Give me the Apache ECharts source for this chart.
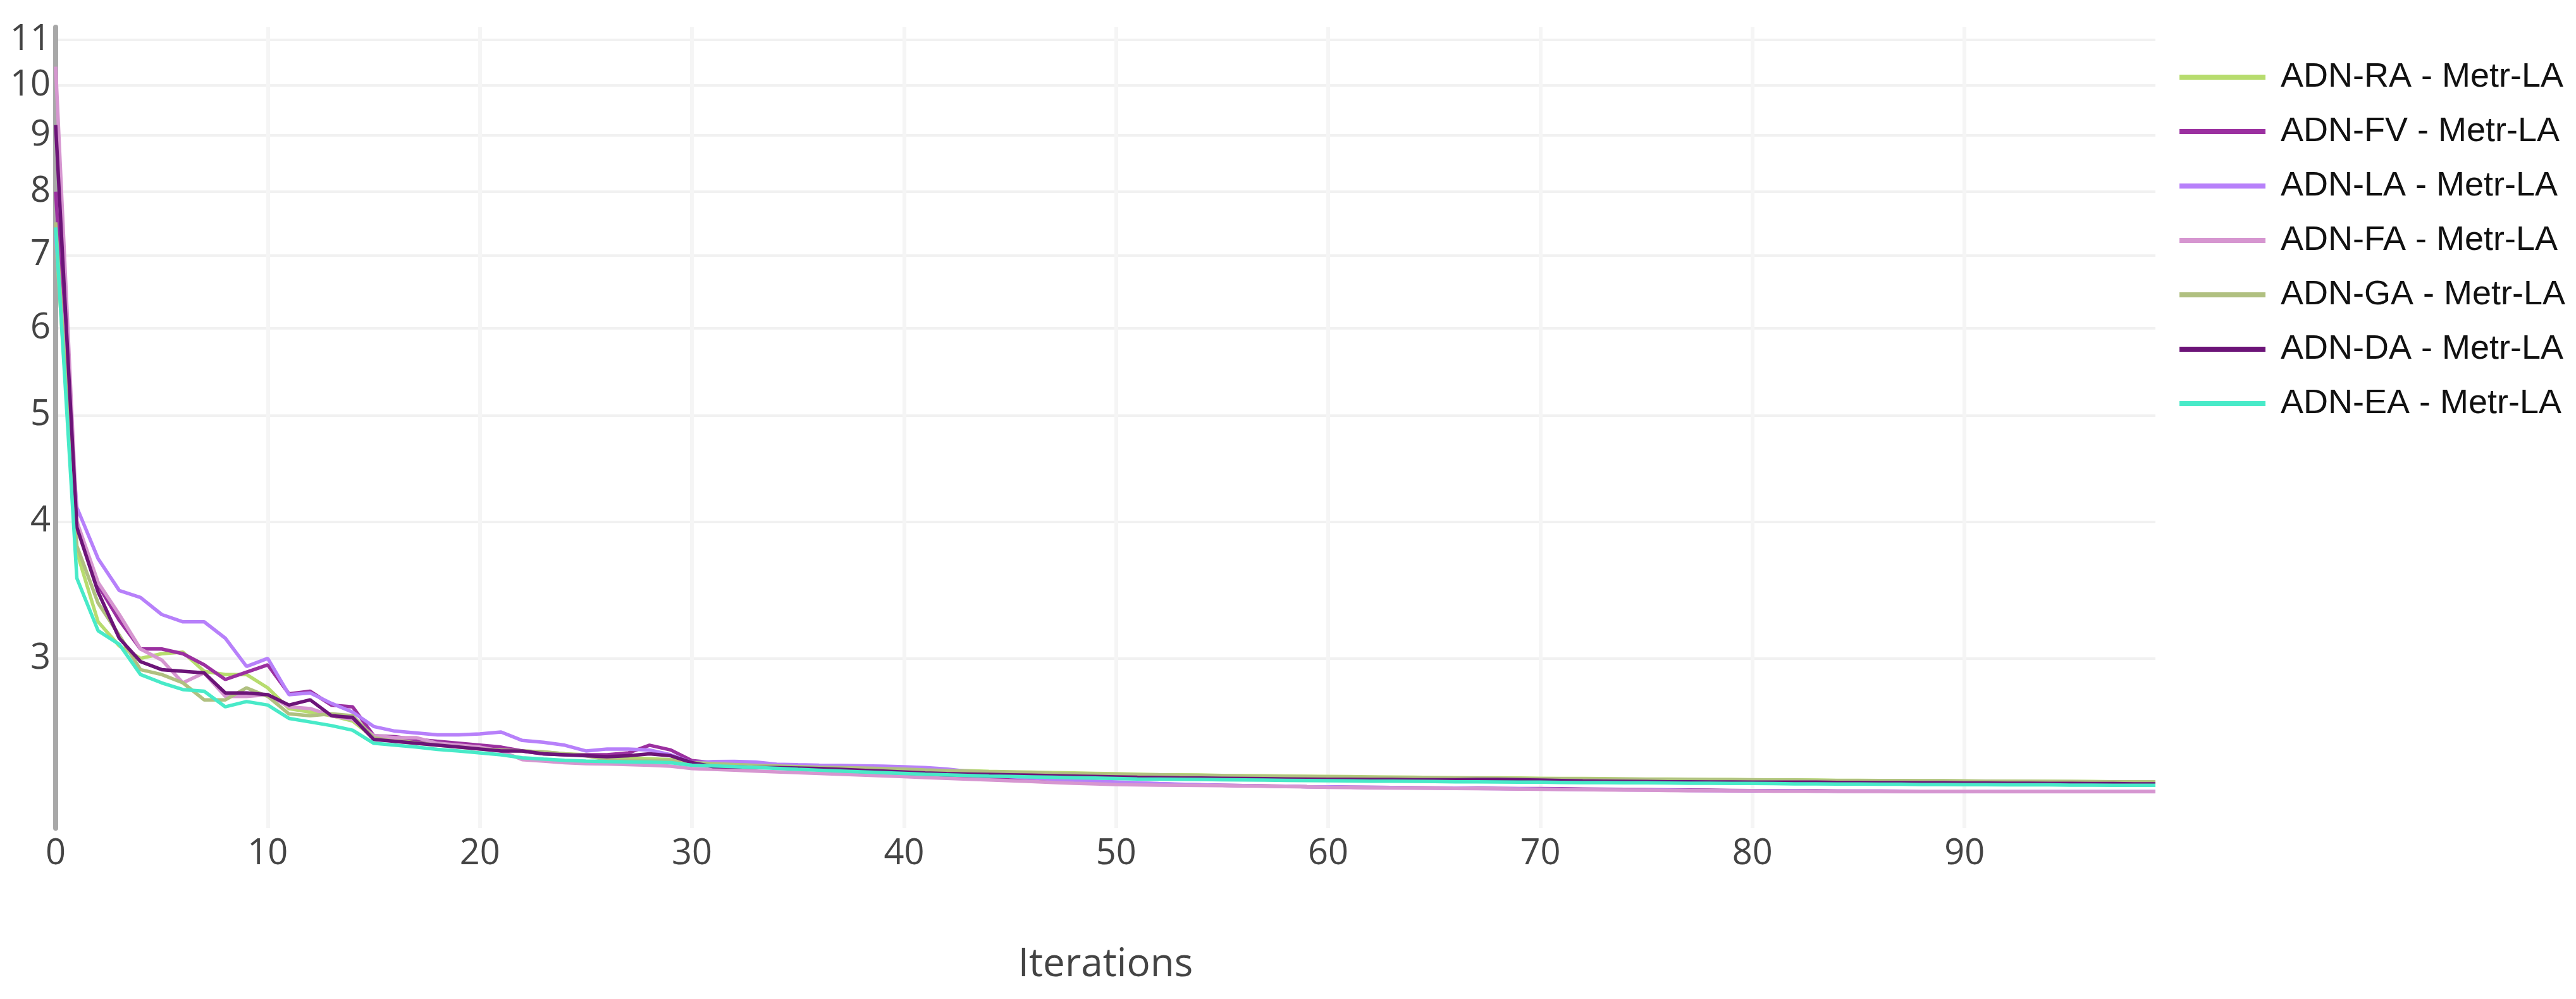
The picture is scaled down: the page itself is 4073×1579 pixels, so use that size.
<!DOCTYPE html>
<html><head><meta charset="utf-8">
<script src="https://cdn.jsdelivr.net/npm/echarts@6/dist/echarts.min.js"></script>
<style>html,body{margin:0;padding:0;background:#fff}#c{width:4073px;height:1579px}</style>
</head><body><div id="c"></div>
<script>
const seriesNames = ["ADN-RA - Metr-LA","ADN-FV - Metr-LA","ADN-LA - Metr-LA","ADN-FA - Metr-LA","ADN-GA - Metr-LA","ADN-DA - Metr-LA","ADN-EA - Metr-LA"];
const xTickLabels = [0,10,20,30,40,50,60,70,80,90];
const yTickLabels = [3,4,5,6,7,8,9,10,11];

const adnRA = [7.3,3.75,3.24,3.08,3.0,3.03,3.04,2.92,2.90,2.90,2.82,2.70,2.68,2.66,2.63,2.54,2.53,2.52,2.51,2.50,2.49,2.48,2.47,2.465,2.455,2.45,2.44,2.435,2.43,2.425,2.415,
2.41,2.405,2.401,2.397,2.393,2.39,2.387,2.384,2.381,2.378,2.375,2.372,2.369,2.366,2.364,2.362,2.36,2.358,2.356,2.354,2.352,2.35,2.349,2.348,2.346,2.345,2.344,2.343,2.342,2.341,
2.34,2.339,2.338,2.337,2.336,2.335,2.334,2.334,2.333,2.332,2.331,2.331,2.33,2.329,2.328,2.328,2.327,2.326,2.326,2.325,2.324,2.324,2.323,2.322,2.322,2.321,2.321,2.32,2.32,2.319,
2.318,2.318,2.317,2.317,2.316,2.316,2.315,2.315,2.314];
const adnFV = [8.0,3.97,3.50,3.25,3.06,3.06,3.03,2.96,2.87,2.915,2.96,2.785,2.80,2.72,2.71,2.55,2.545,2.53,2.52,2.51,2.50,2.49,2.47,2.455,2.45,2.45,2.45,2.46,2.50,2.475,2.42,
2.41,2.40,2.393,2.386,2.38,2.374,2.368,2.362,2.356,2.35,2.345,2.34,2.335,2.331,2.327,2.323,2.32,2.317,2.314,2.311,2.308,2.305,2.302,2.3,2.298,2.296,2.295,2.293,2.291,2.29,
2.289,2.288,2.287,2.286,2.285,2.284,2.284,2.283,2.282,2.282,2.281,2.28,2.279,2.278,2.277,2.276,2.275,2.274,2.273,2.272,2.272,2.271,2.271,2.27,2.27,2.27,2.269,2.269,2.269,2.269,
2.269,2.268,2.268,2.268,2.268,2.268,2.268,2.268,2.268];
const adnLA = [7.3,4.12,3.70,3.46,3.41,3.29,3.24,3.24,3.13,2.95,3.00,2.78,2.79,2.73,2.68,2.60,2.575,2.565,2.555,2.555,2.56,2.57,2.525,2.515,2.50,2.47,2.48,2.48,2.475,2.45,2.41,
2.415,2.416,2.413,2.402,2.399,2.397,2.396,2.394,2.392,2.389,2.385,2.378,2.366,2.352,2.34,2.333,2.327,2.322,2.318,2.314,2.31,2.306,2.303,2.3,2.298,2.296,2.294,2.293,2.291,2.29,
2.289,2.288,2.287,2.286,2.285,2.284,2.283,2.282,2.281,2.28,2.279,2.278,2.277,2.276,2.275,2.274,2.273,2.272,2.272,2.271,2.271,2.271,2.27,2.27,2.27,2.27,2.27,2.269,2.269,2.269,
2.269,2.269,2.269,2.269,2.269,2.269,2.269,2.269,2.269];
const adnFA = [10.4,4.0,3.52,3.29,3.06,2.99,2.85,2.91,2.77,2.77,2.78,2.71,2.70,2.66,2.64,2.55,2.54,2.54,2.51,2.50,2.49,2.47,2.425,2.418,2.41,2.405,2.403,2.40,2.397,2.392,2.38,
2.376,2.372,2.368,2.364,2.36,2.356,2.352,2.348,2.344,2.34,2.336,2.332,2.328,2.324,2.32,2.316,2.312,2.308,2.305,2.302,2.3,2.299,2.298,2.297,2.296,2.295,2.294,2.292,2.29,2.288,
2.287,2.286,2.285,2.284,2.284,2.283,2.282,2.281,2.28,2.279,2.278,2.277,2.276,2.275,2.274,2.273,2.272,2.272,2.271,2.271,2.27,2.27,2.27,2.27,2.269,2.269,2.269,2.269,2.269,2.269,
2.268,2.268,2.268,2.268,2.268,2.268,2.268,2.268,2.268];
const adnGA = [7.5,3.8,3.37,3.15,2.93,2.90,2.85,2.75,2.75,2.82,2.77,2.67,2.66,2.67,2.66,2.54,2.52,2.51,2.50,2.49,2.48,2.475,2.47,2.465,2.455,2.445,2.425,2.422,2.42,2.42,2.41,
2.405,2.40,2.396,2.393,2.39,2.387,2.385,2.383,2.38,2.377,2.373,2.37,2.367,2.364,2.362,2.36,2.357,2.355,2.353,2.352,2.35,2.349,2.347,2.346,2.345,2.343,2.342,2.341,2.34,2.339,
2.338,2.337,2.336,2.335,2.334,2.333,2.333,2.332,2.331,2.33,2.33,2.329,2.328,2.328,2.327,2.326,2.326,2.325,2.324,2.324,2.323,2.323,2.322,2.321,2.321,2.32,2.32,2.319,2.319,2.318,
2.318,2.317,2.317,2.316,2.316,2.315,2.315,2.314,2.314];
const adnDA = [9.2,3.95,3.45,3.13,2.98,2.93,2.92,2.91,2.79,2.79,2.78,2.72,2.75,2.66,2.65,2.53,2.52,2.51,2.50,2.49,2.48,2.47,2.47,2.455,2.45,2.445,2.44,2.445,2.455,2.445,2.41,
2.39,2.388,2.386,2.385,2.383,2.38,2.376,2.372,2.368,2.363,2.358,2.355,2.353,2.351,2.349,2.347,2.345,2.343,2.341,2.339,2.337,2.336,2.334,2.333,2.332,2.331,2.33,2.329,2.328,2.327,
2.327,2.326,2.326,2.325,2.325,2.325,2.326,2.326,2.325,2.323,2.321,2.319,2.318,2.317,2.316,2.315,2.315,2.314,2.314,2.313,2.313,2.313,2.313,2.312,2.312,2.311,2.311,2.31,2.31,2.309,
2.309,2.308,2.308,2.307,2.307,2.306,2.306,2.305,2.305];
const adnEA = [7.42,3.55,3.18,3.09,2.90,2.85,2.81,2.80,2.71,2.74,2.72,2.645,2.625,2.605,2.58,2.51,2.50,2.49,2.478,2.47,2.46,2.45,2.435,2.428,2.422,2.418,2.415,2.414,2.413,2.41,2.397,
2.394,2.39,2.386,2.381,2.376,2.372,2.368,2.364,2.36,2.356,2.352,2.349,2.346,2.343,2.341,2.339,2.337,2.335,2.333,2.331,2.329,2.328,2.327,2.326,2.325,2.324,2.323,2.322,2.321,2.32,
2.319,2.318,2.318,2.317,2.316,2.315,2.315,2.314,2.313,2.313,2.312,2.311,2.311,2.31,2.31,2.309,2.308,2.308,2.307,2.307,2.306,2.305,2.305,2.304,2.304,2.303,2.303,2.302,2.302,2.301,
2.301,2.3,2.3,2.3,2.299,2.299,2.298,2.298,2.298];

const seriesValues = [adnRA, adnFV, adnLA, adnFA, adnGA, adnDA, adnEA];
const seriesColors = ["#b7dc6e","#9b30a0","#b780fa","#d696d0","#b0c080","#6c1478","#48eac8"];

const chart = echarts.init(document.getElementById('c'), null, {renderer: 'canvas'});
const series = seriesNames.map((name, k) => ({
  name: name,
  type: 'line',
  showSymbol: false,
  symbol: 'none',
  data: seriesValues[k].map((v, i) => [i, v]),
  lineStyle: {width: 5.5, color: seriesColors[k]},
  itemStyle: {color: seriesColors[k]},
  emphasis: {disabled: true},
  animation: false
}));

chart.setOption({
  backgroundColor: '#ffffff',
  animation: false,
  grid: {left: 88, right: 665, top: 43, bottom: 270, containLabel: false},
  legend: {
    orient: 'vertical',
    left: 3441,
    top: 87,
    itemWidth: 136,
    itemHeight: 8,
    itemGap: 26,
    icon: 'rect',
    data: seriesNames,
    textStyle: {fontFamily: 'Liberation Sans, Arial, sans-serif', fontSize: 54, color: '#111', lineHeight: 60, padding: [0,0,0,19]}
  },
  xAxis: {
    type: 'value',
    min: 0,
    max: 99,
    name: 'Iterations',
    nameLocation: 'middle',
    nameGap: 185,
    nameTextStyle: {fontFamily: 'Open Sans, sans-serif', fontSize: 62, color: '#444'},
    axisLine: {show: false},
    axisTick: {show: false, customValues: [10,20,30,40,50,60,70,80,90]},
    axisLabel: {customValues: xTickLabels, fontFamily: 'Open Sans, sans-serif', fontSize: 56, color: '#444', margin: 13},
    splitLine: {show: true, lineStyle: {color: '#f5f5f5', width: 6}}
  },
  yAxis: {
    type: 'log',
    logBase: 10,
    min: 2.10,
    max: 11.30,
    axisLine: {show: true, onZero: false, lineStyle: {color: '#a8a8a8', width: 8}},
    axisTick: {show: false, customValues: yTickLabels},
    axisLabel: {customValues: yTickLabels, fontFamily: 'Open Sans, sans-serif', fontSize: 56, color: '#444', margin: 8},
    splitLine: {show: true, lineStyle: {color: '#f1f1f1', width: 4}},
    minorSplitLine: {show: false}
  },
  series: series
});
</script>
</body></html>
